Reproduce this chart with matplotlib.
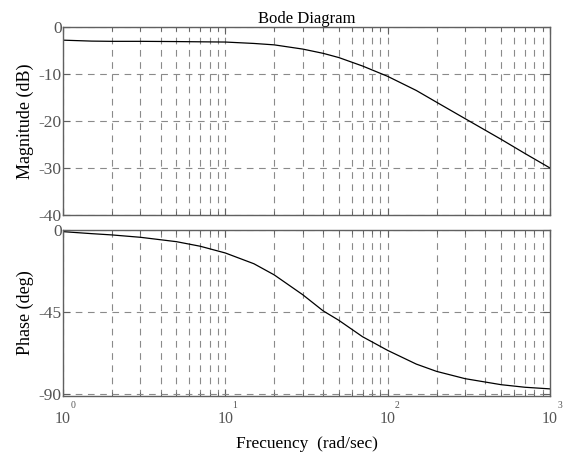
import matplotlib
matplotlib.use('Agg')
from matplotlib import pyplot as plt
from matplotlib.ticker import LogLocator, NullFormatter
import numpy as np

# values
freq = [1, 1.5, 2, 3, 5, 7, 10, 15, 20, 30, 40, 50, 70, 100, 150, 200, 300, 500, 700, 1000]
mag_db = [-2.8, -3.0, -3.05, -3.05, -3.1, -3.15, -3.2, -3.5, -3.8, -4.7, -5.6, -6.5, -8.3,
          -10.5, -13.5, -16.0, -19.5, -23.9, -26.9, -30.0]
phase_deg = [-0.9, -2.0, -2.7, -4.0, -6.4, -8.9, -12.6, -18.5, -24.6, -35.5, -44.3, -49.5,
             -58.5, -66.0, -73.5, -77.5, -81.5, -84.8, -86.2, -87.1]

mag_ticks = [0, -10, -20, -30, -40]
phase_ticks = [0, -45, -90]
dec_ticks = [1, 10, 100, 1000]
dec_exp = ['0', '1', '2', '3']

plt.rcParams['font.family'] = ['Liberation Serif', 'DejaVu Serif']
plt.rcParams['font.size'] = 10.5

fig = plt.figure(figsize=(5.68, 4.57), dpi=100)
ax1 = fig.add_axes([63/568, 1 - 215/457, 487/568, 188/457])
ax2 = fig.add_axes([63/568, 1 - 396/457, 487/568, 166/457])

spine_col = '#606060'
grid_col = '#8a8a8a'
label_col = '#555555'

for ax in (ax1, ax2):
    ax.set_xscale('log')
    ax.set_xlim(1, 1000)
    ax.xaxis.set_major_locator(LogLocator(base=10, numticks=10))
    ax.xaxis.set_minor_locator(LogLocator(base=10, subs=np.arange(2, 10), numticks=20))
    ax.xaxis.set_minor_formatter(NullFormatter())
    ax.grid(True, which='both', axis='x', ls=(0, (6, 5)), color=grid_col, lw=0.8)
    ax.grid(True, which='major', axis='y', ls=(0, (6, 5)), color=grid_col, lw=0.8)
    ax.tick_params(which='both', direction='in', top=True, right=True, color=spine_col,
                   labelcolor=label_col)
    ax.tick_params(axis='y', labelsize=12.5, pad=1)
    ax.tick_params(which='major', length=5)
    ax.tick_params(which='minor', length=3)
    for s in ax.spines.values():
        s.set_color(spine_col)
        s.set_linewidth(1.0)

ax1.plot(freq, mag_db, color='black', lw=0.9)
ax1.set_ylim(-40, 0)
ax1.set_yticks(mag_ticks)
ax1.set_yticklabels([str(t) for t in mag_ticks])
ax1.set_xticklabels([])
ax1.set_ylabel('Magnitude (dB)', fontsize=13, labelpad=3)
ax1.set_title('Bode Diagram', fontsize=12, pad=3)

ax2.plot(freq, phase_deg, color='black', lw=0.9)
ax2.set_ylim(-91, 0)
ax2.set_yticks(phase_ticks)
ax2.set_yticklabels([str(t) for t in phase_ticks])
ax2.set_xticks(dec_ticks)
ax2.set_xticklabels(['10'] * len(dec_ticks))
ax2.tick_params(axis='x', labelsize=11.5, pad=11)
ax2.set_ylabel('Phase (deg)', fontsize=13, labelpad=3)
for f, e in zip(dec_ticks, dec_exp):
    ax2.annotate(e, xy=(f, 0), xycoords=('data', 'axes fraction'),
                 xytext=(7, -7), textcoords='offset points', fontsize=7,
                 color=label_col, ha='center', va='center')
ax2.set_xlabel('Frecuency  (rad/sec)', fontsize=12.5, labelpad=6)

fig.savefig('out.png', dpi=100)
